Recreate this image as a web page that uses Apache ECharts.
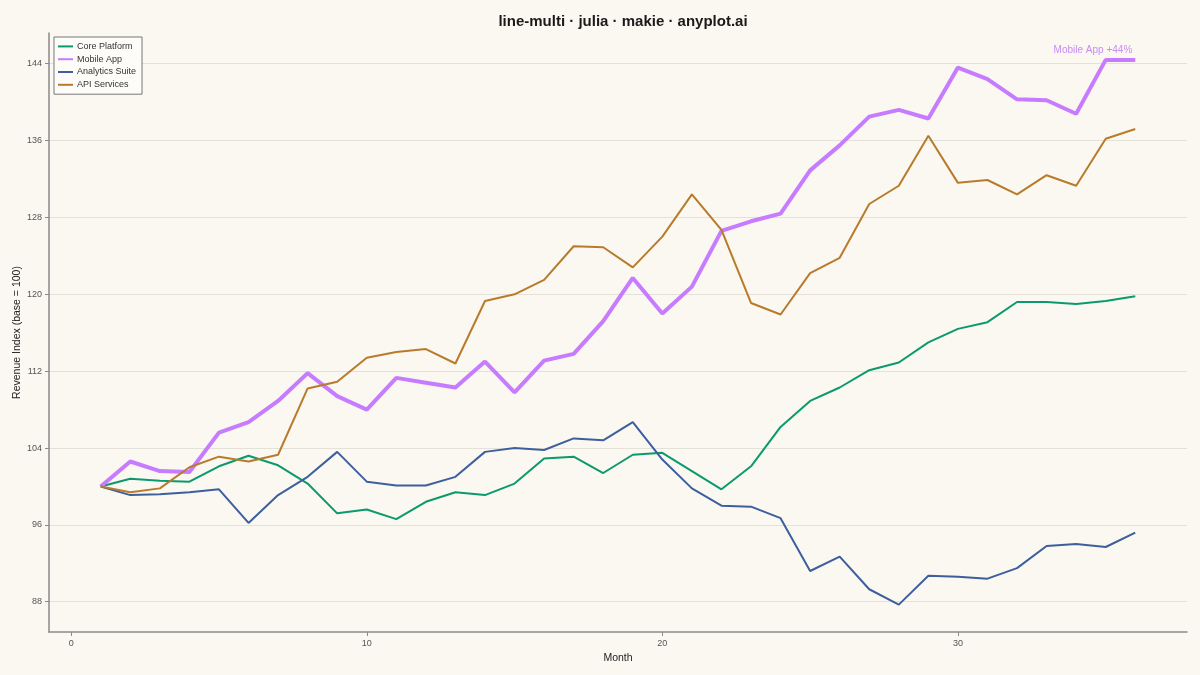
<!DOCTYPE html>
<html>
<head>
<meta charset="utf-8">
<title>line-multi</title>
<script src="https://cdn.jsdelivr.net/npm/echarts@6.0.0/dist/echarts.min.js"></script>
<style>
	html, body { margin: 0; padding: 0; background: #faf8f1; }
	#chart { width: 1200px; height: 675px; }
</style>
</head>
<body>
<div id="chart"></div>
<script>
// values (index, base month = 100)
const months = [1, 2, 3, 4, 5, 6, 7, 8, 9, 10, 11, 12, 13, 14, 15, 16, 17, 18,
	19, 20, 21, 22, 23, 24, 25, 26, 27, 28, 29, 30, 31, 32, 33, 34, 35, 36];
const corePlatform = [100.0, 100.8, 100.6, 100.5, 102.1, 103.2, 102.2, 100.3, 97.2, 97.6, 96.6, 98.4,
	99.4, 99.1, 100.3, 102.9, 103.1, 101.4, 103.3, 103.5, 101.6, 99.7, 102.1, 106.2,
	108.9, 110.3, 112.1, 112.9, 115.0, 116.4, 117.1, 119.2, 119.2, 119.0, 119.3, 119.8];
const mobileApp = [100.0, 102.6, 101.6, 101.5, 105.6, 106.7, 108.9, 111.8, 109.4, 108.0, 111.3, 110.8,
	110.3, 113.0, 109.8, 113.1, 113.8, 117.2, 121.7, 118.0, 120.8, 126.6, 127.6, 128.4,
	132.9, 135.5, 138.5, 139.2, 138.3, 143.6, 142.4, 140.3, 140.2, 138.8, 144.4, 144.4];
const analyticsSuite = [100.0, 99.1, 99.2, 99.4, 99.7, 96.2, 99.1, 101.0, 103.6, 100.5, 100.1, 100.1,
	101.0, 103.6, 104.0, 103.8, 105.0, 104.8, 106.7, 102.8, 99.8, 98.0, 97.9, 96.7,
	91.2, 92.7, 89.3, 87.7, 90.7, 90.6, 90.4, 91.5, 93.8, 94.0, 93.7, 95.2];
const apiServices = [100.0, 99.4, 99.8, 102.0, 103.1, 102.6, 103.3, 110.2, 110.9, 113.4, 114.0, 114.3,
	112.8, 119.3, 120.0, 121.5, 125.0, 124.9, 122.8, 126.0, 130.4, 126.7, 119.1, 117.9,
	122.2, 123.8, 129.4, 131.3, 136.5, 131.6, 131.9, 130.4, 132.4, 131.3, 136.2, 137.2];

const seriesNames = ['Core Platform', 'Mobile App', 'Analytics Suite', 'API Services'];
const xTicks = [0, 10, 20, 30];
const yTicks = [88, 96, 104, 112, 120, 128, 136, 144];

const colors = ['#0a9a6e', '#c77cff', '#3d5f9e', '#b87b2c'];
const font = '"Liberation Sans", Arial, Helvetica, sans-serif';

let chart = echarts.init(document.getElementById('chart'), null, { renderer: 'canvas' });

function pairs(values)
{
	return months.map((m, i) => [m, values[i]]);
}

let lastIdx = months.length - 1;
let mobileGain = Math.round(mobileApp[lastIdx] - mobileApp[0]);

let option = {
	backgroundColor: '#faf8f1',
	animation: false,
	color: colors,
	textStyle: { fontFamily: font },
	title: {
		text: 'line-multi · julia · makie · anyplot.ai',
		left: 618,
		textAlign: 'center',
		top: 9,
		textStyle: { fontSize: 15, fontWeight: 'bold', color: '#1a1a1a', fontFamily: font }
	},
	legend: {
		orient: 'vertical',
		left: 54,
		top: 37,
		padding: [3, 6, 3, 4],
		itemGap: 0,
		itemWidth: 15,
		itemHeight: 2,
		icon: 'rect',
		backgroundColor: '#fdfcf9',
		borderColor: '#777777',
		borderWidth: 1,
		borderRadius: 0,
		textStyle: { fontSize: 9, color: '#333333', fontFamily: font, lineHeight: 12.8, padding: [0, 0, 0, -1] },
		data: seriesNames
	},
	grid: { left: 49, right: 13, top: 33, bottom: 43, containLabel: false, outerBoundsMode: 'none' },
	xAxis: {
		type: 'value',
		min: -0.75,
		max: 37.75,
		name: 'Month',
		nameLocation: 'middle',
		nameGap: 21,
		nameMoveOverlap: false,
		nameTextStyle: { fontSize: 10.5, color: '#222222', fontFamily: font },
		axisLine: { show: true, onZero: false, lineStyle: { color: '#8a8a8a', width: 1.5 } },
		axisTick: { show: true, length: 4, customValues: xTicks, lineStyle: { color: '#8a8a8a' } },
		axisLabel: { customValues: xTicks, fontSize: 9, color: '#555555', margin: 7, fontFamily: font },
		splitLine: { show: false }
	},
	yAxis: {
		type: 'value',
		min: 84.85,
		max: 147.2,
		name: 'Revenue Index (base = 100)',
		nameLocation: 'middle',
		nameGap: 26,
		nameMoveOverlap: false,
		nameTextStyle: { fontSize: 10.5, color: '#222222', fontFamily: font },
		axisLine: { show: true, onZero: false, lineStyle: { color: '#8a8a8a', width: 1.5 } },
		axisTick: { show: true, length: 4, customValues: yTicks, lineStyle: { color: '#8a8a8a' } },
		axisLabel: { customValues: yTicks, fontSize: 9, color: '#555555', margin: 7, fontFamily: font },
		splitLine: { show: true, lineStyle: { color: '#e4e1d9', width: 1.2 } }
	},
	series: [
		{
			name: seriesNames[0],
			type: 'line',
			data: pairs(corePlatform),
			symbol: 'none',
			lineStyle: { width: 2 }
		},
		{
			name: seriesNames[1],
			type: 'line',
			data: pairs(mobileApp),
			symbol: 'none',
			z: 3,
			lineStyle: { width: 4 },
			markPoint: {
				symbol: 'circle',
				symbolSize: 0,
				label: {
					show: true,
					position: 'inside',
					align: 'right',
					verticalAlign: 'bottom',
					offset: [-3, -5],
					formatter: 'Mobile App +' + mobileGain + '%',
					color: '#c98cf5',
					fontSize: 10,
					fontFamily: font
				},
				data: [{ coord: [months[lastIdx], mobileApp[lastIdx]] }]
			}
		},
		{
			name: seriesNames[2],
			type: 'line',
			data: pairs(analyticsSuite),
			symbol: 'none',
			lineStyle: { width: 2 }
		},
		{
			name: seriesNames[3],
			type: 'line',
			data: pairs(apiServices),
			symbol: 'none',
			lineStyle: { width: 2 }
		}
	]
};

chart.setOption(option);
</script>
</body>
</html>
